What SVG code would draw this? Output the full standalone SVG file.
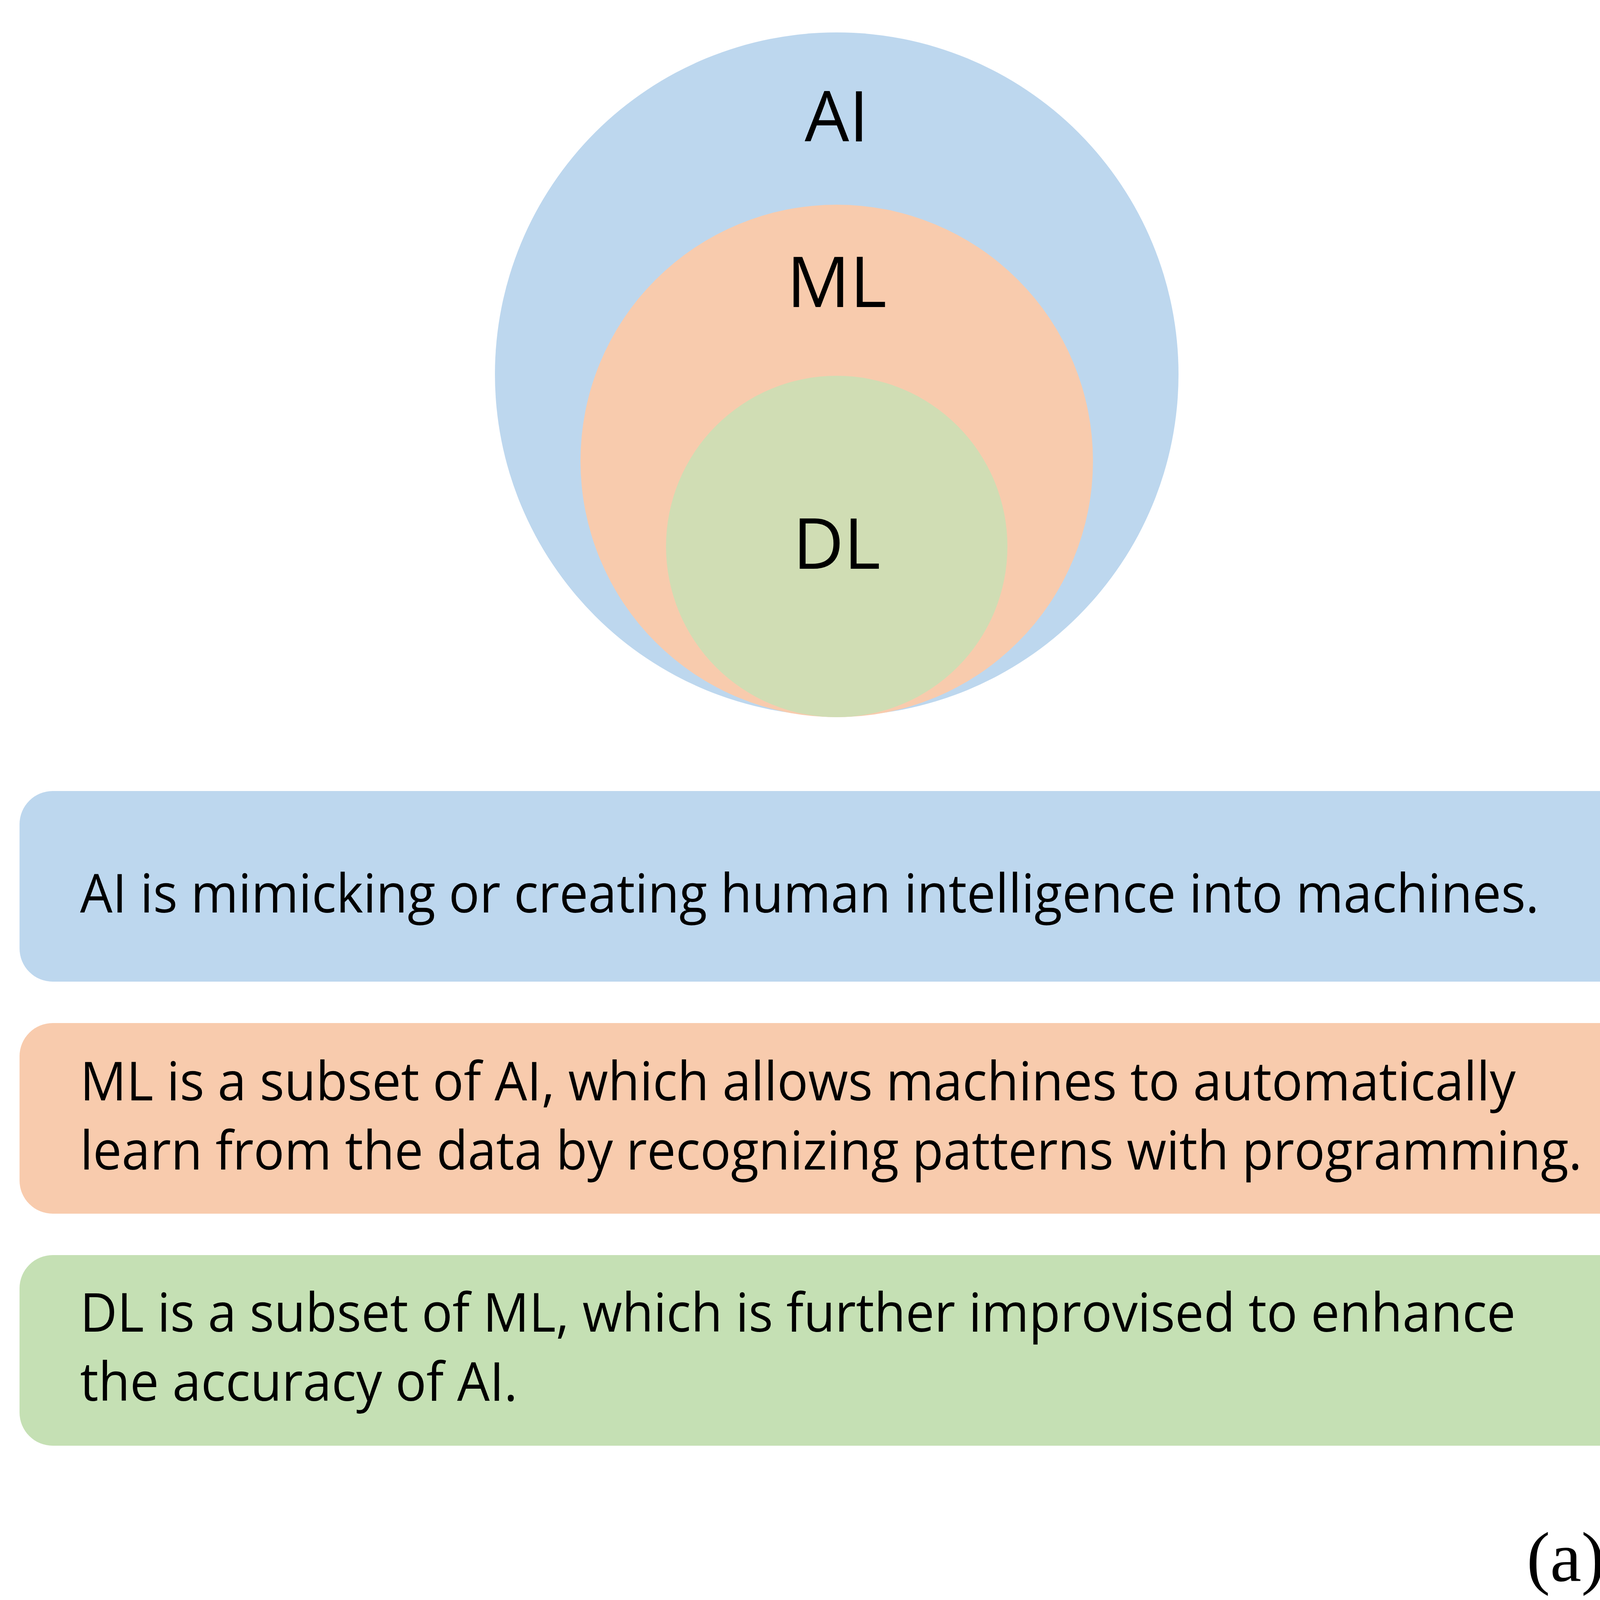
<svg xmlns="http://www.w3.org/2000/svg" width="4271" height="4123" viewBox="0 0 4271 4123">
<style>
.lbl{font-family:"Open Sans","Liberation Sans",sans-serif;font-size:180px;fill:#000;text-anchor:middle}
.t{font-family:"Open Sans","Liberation Sans",sans-serif;font-size:137px;fill:#000}
</style>
<rect width="4271" height="4123" fill="#fff"/>
<g id="ai"><circle cx="2142" cy="958" r="875" fill="#BDD7EE"/><text class="lbl" x="2142" y="362">AI</text></g>
<g id="ml"><circle cx="2142" cy="1180" r="656" fill="#F8CBAD"/><text class="lbl" x="2142" y="786">ML</text></g>
<g id="dl"><circle cx="2142" cy="1399" r="437" fill="#D0DDB4"/><text class="lbl" x="2142" y="1456">DL</text></g>
<g id="box-ai"><rect x="50" y="2025" width="4153" height="488" rx="85" fill="#BDD7EE"/>
<text class="t" x="205" y="2336" textLength="3735" lengthAdjust="spacingAndGlyphs">AI is mimicking or creating human intelligence into machines.</text></g>
<g id="box-ml"><rect x="50" y="2619" width="4153" height="488" rx="85" fill="#F8CBAD"/>
<text class="t" x="205" y="2817" textLength="3675" lengthAdjust="spacingAndGlyphs">ML is a subset of AI, which allows machines to automatically</text>
<text class="t" x="205" y="2994" textLength="3845" lengthAdjust="spacingAndGlyphs">learn from the data by recognizing patterns with programming.</text></g>
<g id="box-dl"><rect x="50" y="3213" width="4153" height="488" rx="85" fill="#C5E0B4"/>
<text class="t" x="205" y="3409" textLength="3675" lengthAdjust="spacingAndGlyphs">DL is a subset of ML, which is further improvised to enhance</text>
<text class="t" x="205" y="3586" textLength="1120" lengthAdjust="spacingAndGlyphs">the accuracy of AI.</text></g>
<g id="connectors"/>
<text x="4108" y="4047" font-family="Liberation Serif,serif" font-size="180" text-anchor="end">(a)</text>
</svg>
